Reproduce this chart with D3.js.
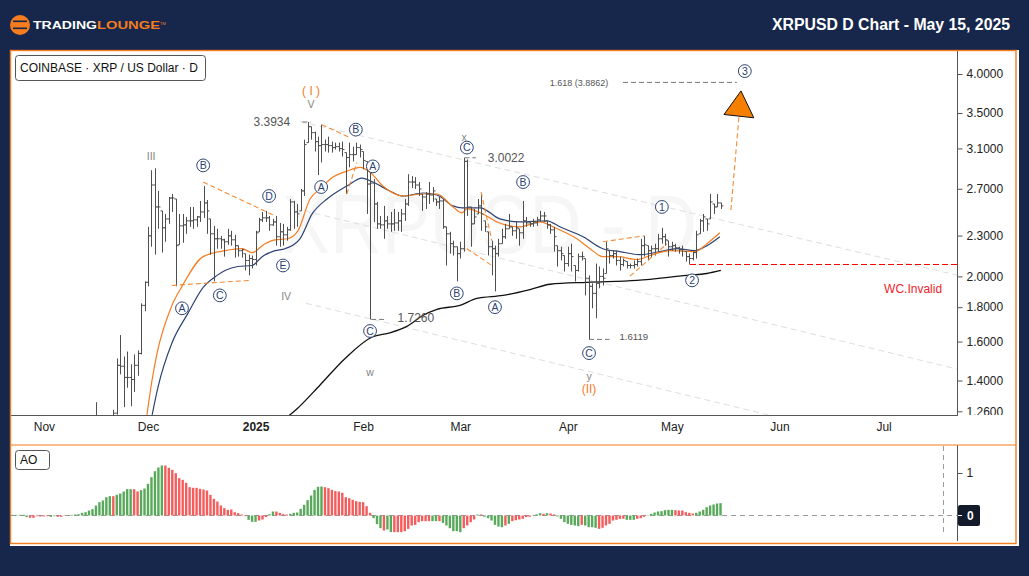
<!DOCTYPE html>
<html>
<head>
<meta charset="utf-8">
<script src="https://cdn.jsdelivr.net/npm/d3@7"></script>
<style>
  html, body { margin: 0; padding: 0; background: #16274b; }
  svg { display: block; }
  text { font-family: "Liberation Sans", Arial, sans-serif; }
</style>
</head>
<body>
<svg id="chart" width="1029" height="576"></svg>
<script>
// Daily bars, first one is 16 Nov 2024, last one is 15 May 2025
var firstBar = Date.UTC(2024, 10, 16);

var barHigh = [1.30,1.20,1.21,1.19,1.16,1.266,1.510,1.636,1.520,1.546,1.480,1.531,1.552,1.824,1.966,
  2.370,2.877,2.896,2.680,2.503,2.477,2.625,2.652,2.607,2.477,
  2.477,2.452,2.537,2.537,2.460,2.590,2.725,2.598,2.435,2.378,
  2.354,2.298,2.275,2.354,2.338,2.306,2.222,2.199,2.162,2.155,
  2.148,2.338,2.444,2.494,2.503,2.460,2.435,2.460,2.402,2.394,
  2.370,2.607,2.590,2.563,2.698,3.195,3.3934,3.340,3.283,3.228,
  3.363,3.195,3.228,3.173,3.162,3.162,3.173,3.056,3.162,3.119,
  3.162,3.141,3.067,2.965,2.887,2.791,2.581,2.460,2.546,2.460,
  2.494,2.520,2.494,2.520,2.607,2.838,2.819,2.810,2.763,2.652,
  2.670,2.763,2.716,2.607,2.625,2.607,2.370,2.330,2.260,2.214,
  2.252,3.0022,2.985,2.537,2.520,2.607,2.652,2.419,2.330,2.260,
  2.222,2.275,2.354,2.394,2.477,2.370,2.410,2.354,2.590,2.452,
  2.419,2.435,2.452,2.503,2.494,2.419,2.394,2.370,2.222,2.214,
  2.148,2.214,2.237,2.076,2.162,2.177,2.126,2.007,1.953,2.090,
  2.069,2.055,2.252,2.184,2.184,2.184,2.140,2.126,2.104,2.090,
  2.112,2.126,2.275,2.298,2.222,2.222,2.237,2.314,2.362,2.314,
  2.260,2.252,2.237,2.214,2.222,2.177,2.162,2.177,2.338,2.435,
  2.477,2.435,2.652,2.563,2.652,2.572];

var barLow = [1.14,1.10,1.12,1.09,1.08,1.10,1.246,1.430,1.278,1.366,1.282,1.346,1.423,1.531,1.775,
  1.933,2.214,2.155,2.354,2.170,2.252,2.394,2.494,1.933,2.229,
  2.244,2.314,2.370,2.354,2.370,2.410,2.444,2.314,2.155,1.966,
  2.199,2.199,2.140,2.229,2.222,2.133,2.140,2.133,2.041,2.007,
  2.055,2.076,2.330,2.410,2.410,2.338,2.378,2.222,2.214,2.222,
  2.260,2.338,2.354,2.370,2.503,2.634,3.162,3.195,3.067,2.829,
  2.955,3.067,3.056,3.056,3.088,3.067,3.015,2.652,2.906,2.965,
  3.035,3.005,2.887,2.477,1.726,2.410,2.354,2.354,2.275,2.354,
  2.330,2.338,2.338,2.330,2.419,2.546,2.707,2.698,2.634,2.503,
  2.520,2.563,2.581,2.546,2.520,2.354,2.076,2.162,2.148,1.966,
  2.126,2.177,2.460,2.214,2.394,2.477,2.338,2.330,2.148,2.007,
  1.900,2.140,2.237,2.275,2.354,2.298,2.275,2.222,2.275,2.370,
  2.370,2.370,2.378,2.410,2.410,2.354,2.314,2.177,2.069,2.112,
  2.034,2.069,2.034,1.966,2.034,2.112,1.874,1.6119,1.793,1.733,
  1.920,1.939,2.020,2.090,2.126,2.076,2.041,2.069,2.055,2.055,
  2.055,2.069,2.076,2.140,2.112,2.133,2.148,2.177,2.237,2.222,
  2.140,2.184,2.177,2.162,2.140,2.104,2.083,2.112,2.126,2.314,
  2.330,2.338,2.435,2.477,2.537,2.520];

var barOpen = [1.15,1.20,1.15,1.14,1.11,1.10,1.252,1.475,1.47,1.415,1.415,1.405,1.475,1.536,1.811,
  1.960,2.298,2.735,2.537,2.503,2.362,2.435,2.616,2.607,2.229,
  2.378,2.386,2.419,2.419,2.427,2.452,2.494,2.572,2.435,2.314,
  2.275,2.275,2.267,2.252,2.298,2.267,2.222,2.184,2.162,2.112,
  2.126,2.119,2.330,2.427,2.444,2.444,2.386,2.410,2.291,2.330,
  2.306,2.346,2.581,2.494,2.503,2.680,3.162,3.340,3.272,3.173,
  3.130,3.141,3.141,3.130,3.109,3.119,3.098,3.056,3.005,3.035,
  3.035,3.109,3.067,2.965,2.744,2.753,2.563,2.394,2.386,2.419,
  2.394,2.394,2.402,2.419,2.477,2.563,2.763,2.763,2.735,2.652,
  2.625,2.652,2.643,2.607,2.581,2.590,2.370,2.314,2.237,2.214,
  2.162,2.199,2.965,2.537,2.394,2.477,2.546,2.419,2.330,2.214,
  2.199,2.162,2.237,2.291,2.354,2.370,2.338,2.354,2.322,2.419,
  2.402,2.394,2.402,2.427,2.460,2.419,2.386,2.346,2.222,2.184,
  2.148,2.090,2.162,2.076,2.041,2.140,2.126,1.987,1.933,1.887,
  1.953,2.000,2.020,2.184,2.148,2.162,2.112,2.083,2.104,2.076,
  2.076,2.083,2.104,2.222,2.222,2.184,2.199,2.199,2.275,2.291,
  2.260,2.214,2.222,2.206,2.191,2.177,2.140,2.126,2.170,2.314,
  2.419,2.435,2.435,2.563,2.537,2.572];

var barClose = [1.20,1.15,1.14,1.11,1.10,1.252,1.475,1.47,1.415,1.415,1.405,1.475,1.536,1.811,1.960,
  2.298,2.735,2.537,2.537,2.362,2.435,2.616,2.616,2.222,2.378,
  2.386,2.419,2.419,2.427,2.452,2.494,2.572,2.503,2.314,2.275,
  2.275,2.267,2.252,2.298,2.267,2.222,2.184,2.191,2.112,2.126,
  2.119,2.322,2.427,2.444,2.444,2.386,2.410,2.291,2.330,2.306,
  2.346,2.581,2.494,2.477,2.680,3.141,3.340,3.272,3.173,3.130,
  3.141,3.141,3.130,3.109,3.119,3.098,3.088,3.005,3.035,3.035,
  3.109,3.088,2.975,2.744,2.753,2.563,2.394,2.386,2.419,2.394,
  2.394,2.402,2.419,2.477,2.563,2.763,2.763,2.735,2.698,2.625,
  2.652,2.643,2.680,2.581,2.590,2.370,2.314,2.237,2.214,2.162,
  2.199,2.965,2.537,2.394,2.452,2.546,2.477,2.370,2.214,2.199,
  2.162,2.237,2.291,2.354,2.370,2.338,2.362,2.322,2.419,2.402,
  2.394,2.402,2.427,2.460,2.460,2.386,2.346,2.291,2.184,2.162,
  2.090,2.162,2.140,2.041,2.140,2.140,1.987,1.933,1.887,1.953,
  2.000,1.987,2.199,2.148,2.162,2.112,2.083,2.112,2.076,2.076,
  2.083,2.104,2.222,2.229,2.184,2.199,2.199,2.275,2.291,2.267,
  2.214,2.222,2.206,2.191,2.191,2.140,2.126,2.170,2.306,2.419,
  2.452,2.394,2.581,2.537,2.572,2.546];

// Moving averages, [days from 1 Dec 2024, price]
var fastMa = [[-0.3,1.245],[1.2,1.405],[2.6,1.536],[6.9,1.811],[9.8,1.933],[15.9,2.140],[22.2,2.184],[27.1,2.199],[30,2.170],[33.7,2.237],[36.6,2.267],[40.1,2.275],[43.2,2.338],[46.7,2.607],[49.6,2.698],[53.3,2.810],[57.3,2.868],[61.1,2.906],[64,2.858],[67.7,2.725],[73.5,2.634],[79.3,2.652],[83.3,2.652],[87.9,2.537],[90.5,2.486],[91.9,2.520],[96.5,2.477],[100.6,2.410],[107.2,2.370],[113,2.410],[116.7,2.370],[123.6,2.275],[127.4,2.199],[131.1,2.140],[135.2,2.140],[140.9,2.119],[145.5,2.155],[150.4,2.184],[157.6,2.177],[161.1,2.237],[164.8,2.322]];
var slowMa = [[1.2,1.245],[2.9,1.370],[6.9,1.592],[11.5,1.762],[15.9,1.926],[19.9,2.007],[22.2,2.041],[25.9,2.069],[30,2.076],[32.9,2.140],[36.6,2.184],[39.5,2.199],[43.8,2.275],[47.3,2.477],[51.6,2.607],[57.3,2.725],[61.7,2.800],[64.8,2.763],[69.7,2.680],[73.5,2.634],[79.3,2.661],[83.3,2.643],[87.9,2.546],[90.5,2.529],[95.7,2.529],[101.4,2.435],[107.2,2.410],[115,2.419],[118.7,2.370],[125.4,2.291],[131.1,2.199],[136,2.177],[141.8,2.155],[147.6,2.177],[152.4,2.199],[157.6,2.184],[161.1,2.222],[164.8,2.291]];
var longMa = [[40.6,1.241],[42.9,1.270],[49.6,1.379],[56.8,1.51],[64.6,1.625],[69.7,1.648],[74.6,1.685],[79.3,1.751],[83.3,1.787],[89.9,1.811],[94.8,1.855],[102.3,1.874],[110.1,1.912],[115.9,1.947],[126.5,1.960],[140.9,1.973],[155.3,2.007],[161.1,2.020],[165.1,2.041]];

// Awesome Oscillator, first bar is 23 Oct 2024
var firstAo = Date.UTC(2024, 9, 23);
var aoValues = [.016,.016,.016,.016,-.039,-.055,-.055,-.016,-.024,-.024,-.016,-.031,-.016,-.031,-.031,-.008,
  .008,.016,.024,.031,.063,.078,.118,.149,.235,.314,
  .353,.431,.455,.455,.486,.518,.565,.62,.62,.62,
  .565,.596,.635,.745,.902,1.043,1.129,1.176,1.176,1.122,
  1.075,.996,.878,.839,.769,.667,.651,.651,.627,.612,
  .588,.486,.392,.329,.235,.173,.133,.141,.078,.055,
  .024,-.016,-.102,-.149,-.149,-.118,-.094,-.039,.031,.094,
  .094,.063,.031,.024,.039,.063,.071,.157,.251,.361,
  .471,.604,.675,.682,.667,.643,.604,.573,.565,.533,
  .431,.408,.369,.337,.322,.314,.22,.063,
  -.063,-.204,-.298,-.353,-.329,-.392,-.392,-.392,-.392,-.369,
  -.314,-.235,-.22,-.157,-.133,-.133,-.133,-.133,-.133,-.133,
  -.173,-.235,-.298,-.369,-.369,-.392,-.298,-.235,-.157,-.094,
  .024,.024,-.031,-.063,-.118,-.22,-.259,-.275,-.235,-.196,
  -.133,-.11,-.094,-.078,-.039,-.031,.004,.024,.055,.039,
  .055,.047,.024,-.024,-.078,-.157,-.196,-.22,-.235,-.251,
  -.22,-.235,-.275,-.275,-.29,-.314,-.29,-.235,-.196,-.118,
  -.102,-.078,-.078,-.102,-.102,-.102,-.078,-.063,-.031,.008,
  .039,.071,.094,.102,.125,.133,.133,.125,.118,.118,
  .078,.063,.047,.063,.094,.133,.196,.235,.259,.282,.29];
var aoColors = "gggggrrrrrrggrrr" + "gggggggggg" + "gggrgggggr" + "rggggggg" + "rr" + "rrrrrrrrrr" + "rrrrrrrrrr" +
  "rrgggrrrgg" + "rrrrgggggg" + "ggggrrrrrr" + "rrrrrrrr" +
  "gggrggrrrr" + "rrrrrrrggr" + "ggggggrrrr" + "grggggggrg" + "rrrrrrgggr" +
  "grrggggggg" + "rggggrrrrr" + "rrrgggrrrg" + "gggggggrrr" + "rrrggggggg" + "g";

var priceTicks = [4, 3.5, 3.1, 2.7, 2.3, 2, 1.8, 1.6, 1.4, 1.26];
var monthTicks = [[2024,10,"Nov"],[2024,11,"Dec"],[2025,0,"2025"],[2025,1,"Feb"],[2025,2,"Mar"],[2025,3,"Apr"],[2025,4,"May"],[2025,5,"Jun"],[2025,6,"Jul"]];

// Wave count labels, [text, days from 1 Dec 2024, price]
var circleLabels = [["B",15.9,2.925],["D",34.9,2.634],["E",38.9,2.076],["C",20.7,1.874],["A",9.8,1.793],["A",49.9,2.716],["B",59.9,3.306],["A",64.8,2.915],["C",64,1.659],["C",91.9,3.109],["B",108.1,2.763],["B",89,1.887],["A",100,1.80],["C",127.1,1.538],["1",148.1,2.537],["2",156.8,1.973],["3",172,4.04]];
var grayLabels = [["III",0.9,3.015],["V",47,3.61],["IV",39.8,1.868],["w",64,1.442],["x",91.1,3.217],["y",127.1,1.422]];
var orangeLabels = [["( I )",47,3.774],["(II)",127.1,1.361]];
var priceNotes = [["3.3934",35.7,3.398,12],["3.0022",103.2,3.005,12],["1.7260",77.2,1.739,12],["1.6119",140,1.625,9.6],["1.618 (3.8862)",124.2,3.878,9]];

// Line drawings, [[day, price], [day, price]]
var channelLines = [[[43.8,3.398],[233.4,2.007]], [[45.2,2.503],[233.4,1.455]], [[45.5,1.824],[178.7,1.245]]];
var waveLines = [[[15.9,2.763],[36,2.469]], [[6.9,1.939],[29.4,1.973]], [[50.1,3.363],[58.2,3.217]], [[57.3,2.652],[60.2,2.955]], [[96,2.67],[99.1,2.26]], [[91.9,2.199],[99.1,2.076]], [[131.1,2.252],[142.9,2.298]], [[138.9,2.002],[149.6,2.237]], [[168,2.511],[170.3,3.452]]];
var levelLines = [[[44.5,3.3934],[47,3.3934]], [[91.2,3.0022],[94.5,3.0022]], [[64.3,1.726],[68.3,1.726]], [[127.1,1.6119],[133,1.6119]], [[136.9,3.8862],[169.7,3.8862]]];
var invalidLine = [[156.2,2.083],[233.4,2.083]];
var targetArrow = [[170.9,3.774],[166,3.482],[174.6,3.443]];

var svg = d3.select("#chart");
var navy = "#2d4373", orange = "#f57c1f", axisGray = "#555";

var x = d3.scaleUtc().domain([Date.UTC(2024, 10, 1), Date.UTC(2025, 6, 1)]).range([43.9, 883.6]);
var y = d3.scaleLog().domain([4, 1.26]).range([74, 411.3]);
var yAo = d3.scaleLinear().domain([0, 1]).range([515.5, 473]);

function dayX(d) { return x(Date.UTC(2024, 11, 1) + d * 864e5); }
var pairLine = d3.line().x(function(d) { return dayX(d[0]); }).y(function(d) { return y(d[1]); });

// page frame
svg.append("rect").attr("x", 10).attr("y", 50).attr("width", 1009).attr("height", 496).attr("fill", "#fff");

// logo
svg.append("circle").attr("cx", 20).attr("cy", 25).attr("r", 10).attr("fill", orange);
svg.selectAll(".stripe").data([21.5, 28.5]).enter().append("rect").attr("class", "stripe")
  .attr("x", 13).attr("y", function(d) { return d - 1; }).attr("width", 14).attr("height", 1.6).attr("fill", "#16274b");
svg.append("text").attr("x", 33).attr("y", 29).attr("font-size", 11).attr("font-weight", "bold").attr("fill", "#fff")
  .attr("textLength", 64).attr("lengthAdjust", "spacingAndGlyphs").text("TRADING");
svg.append("text").attr("x", 97).attr("y", 29).attr("font-size", 11).attr("font-weight", "bold").attr("fill", orange)
  .attr("textLength", 63).attr("lengthAdjust", "spacingAndGlyphs").text("LOUNGE");
svg.append("text").attr("x", 160).attr("y", 24.5).attr("font-size", 4).attr("fill", orange).text("TM");

svg.append("text").attr("x", 1010).attr("y", 30).attr("text-anchor", "end").attr("font-size", 15.8).attr("font-weight", "bold")
  .attr("fill", "#fff").text("XRPUSD D Chart - May 15, 2025");

var defs = svg.append("defs");
defs.append("clipPath").attr("id", "plotClip").append("rect").attr("x", 11).attr("y", 51).attr("width", 946).attr("height", 364);

var plot = svg.append("g").attr("clip-path", "url(#plotClip)");

// watermark
plot.append("text").attr("x", 282).attr("y", 253).attr("font-size", 84)
  .attr("textLength", 415).attr("lengthAdjust", "spacingAndGlyphs")
  .attr("fill", "#f6f6f6").text("XRPUSD - D");

// channel
plot.selectAll(".channel").data(channelLines).enter().append("path").attr("class", "channel")
  .attr("d", pairLine).attr("fill", "none").attr("stroke", "#dedede").attr("stroke-width", 1).attr("stroke-dasharray", "6 4");

// moving averages
var maCurve = d3.line().x(function(d) { return dayX(d[0]); }).y(function(d) { return y(d[1]); }).curve(d3.curveMonotoneX);
plot.append("path").attr("d", maCurve(longMa)).attr("fill", "none").attr("stroke", "#111").attr("stroke-width", 1.3);
plot.append("path").attr("d", maCurve(slowMa)).attr("fill", "none").attr("stroke", navy).attr("stroke-width", 1.2);
plot.append("path").attr("d", maCurve(fastMa)).attr("fill", "none").attr("stroke", orange).attr("stroke-width", 1.2);

// ohlc bars
plot.selectAll(".bar").data(barHigh).enter().append("path").attr("class", "bar")
  .attr("d", function(h, i) {
    var bx = Math.round(x(firstBar + i * 864e5)) + 0.5;
    return "M" + bx + "," + y(h) + "V" + y(barLow[i]) +
      "M" + (bx - 2) + "," + y(barOpen[i]) + "H" + bx +
      "M" + bx + "," + y(barClose[i]) + "H" + (bx + 2);
  })
  .attr("fill", "none").attr("stroke", "#4f4f4f").attr("stroke-width", 1);

// wave lines
plot.selectAll(".wave").data(waveLines).enter().append("path").attr("class", "wave")
  .attr("d", pairLine).attr("fill", "none").attr("stroke", "#f78a33").attr("stroke-width", 1.1).attr("stroke-dasharray", "5 3");

plot.selectAll(".level").data(levelLines).enter().append("path").attr("class", "level")
  .attr("d", pairLine).attr("fill", "none").attr("stroke", "#777").attr("stroke-width", 1).attr("stroke-dasharray", "5 3");

plot.append("path").attr("d", pairLine(invalidLine)).attr("fill", "none").attr("stroke", "#f00")
  .attr("stroke-width", 1.2).attr("stroke-dasharray", "6 3");

plot.append("path").attr("d", pairLine(targetArrow) + "Z").attr("fill", "#f77f00").attr("stroke", "#111").attr("stroke-width", 1);

// labels
var circles = plot.selectAll(".wl").data(circleLabels).enter().append("g").attr("class", "wl")
  .attr("transform", function(d) { return "translate(" + dayX(d[1]) + "," + y(d[2]) + ")"; });
circles.append("circle").attr("r", 6.4).attr("fill", "#fff").attr("stroke", navy).attr("stroke-width", 1);
circles.append("text").attr("text-anchor", "middle").attr("dy", "0.36em").attr("font-size", 10.5).attr("fill", navy)
  .text(function(d) { return d[0]; });

function addLabels(data, color, size) {
  plot.selectAll(null).data(data).enter().append("text")
    .attr("x", function(d) { return dayX(d[1]); })
    .attr("y", function(d) { return y(d[2]); })
    .attr("dy", "0.36em").attr("text-anchor", "middle").attr("fill", color)
    .attr("font-size", function(d) { return d[3] || size; })
    .text(function(d) { return d[0]; });
}
addLabels(grayLabels, "#858585", 10.5);
addLabels(orangeLabels, orange, 12);
addLabels(priceNotes, "#555", 12);
addLabels([["WC.Invalid", 220.5, 1.92]], "#f0222a", 12);

// price axis
var priceAxis = d3.axisRight(y).tickValues(priceTicks).tickFormat(d3.format(".4f")).tickSize(5).tickPadding(4);
defs.append("clipPath").attr("id", "axisClip").append("rect").attr("x", -1).attr("y", 51).attr("width", 60).attr("height", 364);
var gPrice = svg.append("g").attr("transform", "translate(957.5,0)").attr("clip-path", "url(#axisClip)").call(priceAxis);
gPrice.select(".domain").remove();
gPrice.selectAll("line").attr("stroke", axisGray);
gPrice.selectAll("text").attr("font-size", 12).attr("fill", "#222").attr("font-family", "Liberation Sans");

svg.append("line").attr("x1", 957.5).attr("x2", 957.5).attr("y1", 51).attr("y2", 415.5).attr("stroke", axisGray);
svg.append("line").attr("x1", 11).attr("x2", 958).attr("y1", 415.5).attr("y2", 415.5).attr("stroke", axisGray);

// time axis
var timeAxis = d3.axisBottom(x)
  .tickValues(monthTicks.map(function(m) { return Date.UTC(m[0], m[1], 1); }))
  .tickFormat(function(d, i) { return monthTicks[i][2]; })
  .tickSize(0).tickPadding(7);
var gTime = svg.append("g").attr("transform", "translate(0,415.5)").call(timeAxis);
gTime.select(".domain").remove();
gTime.selectAll("text").attr("font-size", 12).attr("fill", "#222").attr("font-family", "Liberation Sans")
  .attr("font-weight", function(d, i) { return monthTicks[i][2] == "2025" ? "bold" : "normal"; });

// legend boxes
svg.append("rect").attr("x", 15.5).attr("y", 55.5).attr("width", 190).attr("height", 25).attr("rx", 3)
  .attr("fill", "#fff").attr("stroke", "#555");
svg.append("text").attr("x", 20).attr("y", 72).attr("font-size", 12).attr("fill", "#111").text("COINBASE \u00b7 XRP / US Dollar \u00b7 D");

// ao pane
svg.append("line").attr("x1", 11).attr("x2", 957).attr("y1", yAo(0)).attr("y2", yAo(0))
  .attr("stroke", "#9a9aa0").attr("stroke-width", 1).attr("stroke-dasharray", "5 4");
svg.append("line").attr("x1", 943.5).attr("x2", 943.5).attr("y1", 446).attr("y2", 536)
  .attr("stroke", "#9a9aa0").attr("stroke-width", 1).attr("stroke-dasharray", "5 4");

svg.selectAll(".ao").data(aoValues).enter().append("rect").attr("class", "ao")
  .attr("x", function(d, i) { return x(firstAo + i * 864e5) - 1.2; })
  .attr("y", function(d) { return Math.min(yAo(d), yAo(0)); })
  .attr("width", 2.4)
  .attr("height", function(d) { return Math.abs(yAo(d) - yAo(0)); })
  .attr("fill", function(d, i) { return aoColors[i] == "g" ? "#59a95b" : "#f55c5c"; });

var aoAxis = d3.axisRight(yAo).tickValues([1]).tickFormat(d3.format("d")).tickSize(5).tickPadding(4);
var gAo = svg.append("g").attr("transform", "translate(957.5,0)").call(aoAxis);
gAo.select(".domain").remove();
gAo.selectAll("line").attr("stroke", axisGray);
gAo.selectAll("text").attr("font-size", 12).attr("fill", "#222").attr("font-family", "Liberation Sans");
svg.append("line").attr("x1", 957.5).attr("x2", 957.5).attr("y1", 445).attr("y2", 541).attr("stroke", axisGray);

svg.append("rect").attr("x", 958).attr("y", 505).attr("width", 22).attr("height", 21).attr("rx", 2).attr("fill", "#131a2a");
svg.append("line").attr("x1", 958).attr("x2", 962).attr("y1", yAo(0)).attr("y2", yAo(0)).attr("stroke", "#fff");
svg.append("text").attr("x", 967).attr("y", yAo(0)).attr("dy", "0.36em").attr("font-size", 12).attr("font-weight", "bold")
  .attr("fill", "#fff").text("0");

svg.append("rect").attr("x", 15.5).attr("y", 450.5).attr("width", 34).attr("height", 19).attr("rx", 3)
  .attr("fill", "#fff").attr("stroke", "#555");
svg.append("text").attr("x", 20).attr("y", 464).attr("font-size", 12).attr("fill", "#111").text("AO");

// orange frame lines
svg.append("rect").attr("x", 10.5).attr("y", 50.5).attr("width", 1005.5).attr("height", 493).attr("fill", "none")
  .attr("stroke", orange).attr("stroke-width", 1.4);
svg.append("line").attr("x1", 10.5).attr("x2", 1016).attr("y1", 445).attr("y2", 445).attr("stroke", orange).attr("stroke-width", 1.2);
</script>
</body>
</html>
